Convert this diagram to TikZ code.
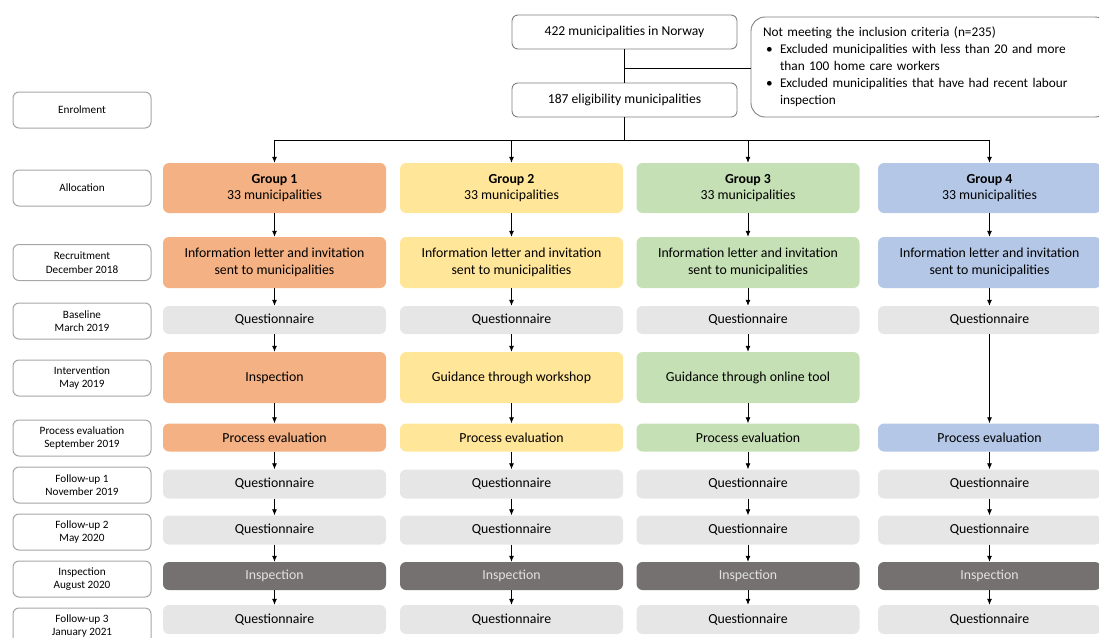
\documentclass[tikz,border=0pt]{standalone}
\usepackage{fontspec}
\setmainfont{Carlito}
\usetikzlibrary{arrows.meta}
\definecolor{cOrange}{HTML}{F4B183}
\definecolor{cYellow}{HTML}{FFE699}
\definecolor{cGreen}{HTML}{C5E0B4}
\definecolor{cBlue}{HTML}{B4C7E7}
\definecolor{cGray}{HTML}{E6E6E6}
\definecolor{cDark}{HTML}{767171}
\definecolor{cDarkText}{HTML}{E2E2E2}
\definecolor{cBorder}{HTML}{A6A6A6}
\definecolor{cTopBorder}{HTML}{808080}
\begin{document}
\begin{tikzpicture}[x=1pt,y=-1pt,
  lbl/.style={draw=cBorder, line width=1pt, rounded corners=6pt, fill=white, minimum width=138pt, minimum height=36pt, align=center, inner sep=0pt, font=\fontsize{11.2}{13.5}\selectfont},
  topbox/.style={draw=cTopBorder, line width=0.9pt, rounded corners=6pt, fill=white, minimum width=225pt, minimum height=34pt, inner sep=0pt, font=\fontsize{13.6}{16}\selectfont},
  box/.style={rounded corners=6pt, minimum width=223pt, inner sep=0pt, align=center, font=\fontsize{13.8}{16.5}\selectfont},
  tall/.style={box, minimum height=51pt},
  short/.style={box, minimum height=28pt},
  qbox/.style={short, fill=cGray},
  darkbox/.style={short, fill=cDark, text=cDarkText},
  arr/.style={-{Latex[length=6pt,width=5pt]}, line width=0.8pt},
  conn/.style={line width=0.8pt}
]
\useasboundingbox (0,0) rectangle (1099,637);
\clip (0,0) rectangle (1099,637);

% left stage labels
\node[lbl] (l1) at (82,110) {Enrolment};
\node[lbl] (l2) at (82,188) {Allocation};
\node[lbl] (l3) at (82,262.5) {Recruitment\\December 2018};
\node[lbl] (l4) at (82,321) {Baseline\\March 2019};
\node[lbl] (l5) at (82,378) {Intervention\\May 2019};
\node[lbl] (l6) at (82,438) {Process evaluation\\September 2019};
\node[lbl] (l7) at (82,485) {Follow-up 1\\November 2019};
\node[lbl] (l8) at (82,532) {Follow-up 2\\May 2020};
\node[lbl] (l9) at (82,579) {Inspection\\August 2020};
\node[lbl] (l10) at (82,626) {Follow-up 3\\January 2021};

% top
\node[topbox] (n422) at (624.5,32) {422 municipalities in Norway};
\node[topbox] (n187) at (624.5,100) {187 eligibility municipalities};
\node[draw=cTopBorder, line width=0.9pt, rounded corners=14pt, fill=white,
      text width=334pt, inner xsep=12pt, inner ysep=0pt, minimum height=100pt,
      align=left, font=\fontsize{13.3}{17}\selectfont] (ex) at (930,67)
  {Not meeting the inclusion criteria (n=235)\\
   \makebox[17pt][l]{\hspace{3pt}\textbullet}Excluded municipalities with less than 20 and more\\
   \hspace*{17pt}than 100 home care workers\\
   \makebox[17pt][l]{\hspace{3pt}\textbullet}Excluded municipalities that have had recent labour\\
   \hspace*{17pt}inspection};

\coordinate (j) at (624.5,68);
\coordinate (t) at (624.5,140);
\draw[conn] (n422) -- (n187);
\draw[conn] (j) -- (j -| ex.west);
\draw[conn] (n187) -- (t);

% columns
\foreach \c/\x/\col in {1/274.5/cOrange,2/511.5/cYellow,3/748/cGreen,4/989.5/cBlue} {
  \node[box, fill=\col, minimum height=50pt] (g\c) at (\x,188) {\textbf{Group \c}\\33 municipalities};
  \node[tall, fill=\col] (info\c) at (\x,262.5) {Information letter and invitation\\sent to municipalities};
  \node[qbox] (qa\c) at (\x,320) {Questionnaire};
  \node[short, fill=\col] (pe\c) at (\x,437.5) {Process evaluation};
  \node[qbox, minimum height=29pt] (qb\c) at (\x,484) {Questionnaire};
  \node[qbox, minimum height=29pt] (qc\c) at (\x,530) {Questionnaire};
  \node[darkbox] (ins\c) at (\x,576) {Inspection};
  \node[qbox, minimum height=29pt] (qd\c) at (\x,619.5) {Questionnaire};
}
\node[tall, fill=cOrange] (iv1) at (274.5,377.5) {Inspection};
\node[tall, fill=cYellow] (iv2) at (511.5,377.5) {Guidance through workshop};
\node[tall, fill=cGreen] (iv3) at (748,377.5) {Guidance through online tool};

\draw[conn] (g1 |- t) -- (g4 |- t);
\foreach \c in {1,2,3,4} {
  \draw[arr] (g\c |- t) -- (g\c);
  \draw[arr] (g\c) -- (info\c);
  \draw[arr] (info\c) -- (qa\c);
  \draw[arr] (pe\c) -- (qb\c);
  \draw[arr] (qb\c) -- (qc\c);
  \draw[arr] (qc\c) -- (ins\c);
  \draw[arr] (ins\c) -- (qd\c);
}
\foreach \c in {1,2,3} {
  \draw[arr] (qa\c) -- (iv\c);
  \draw[arr] (iv\c) -- (pe\c);
}
\draw[arr] (qa4) -- (pe4);
\end{tikzpicture}
\end{document}
